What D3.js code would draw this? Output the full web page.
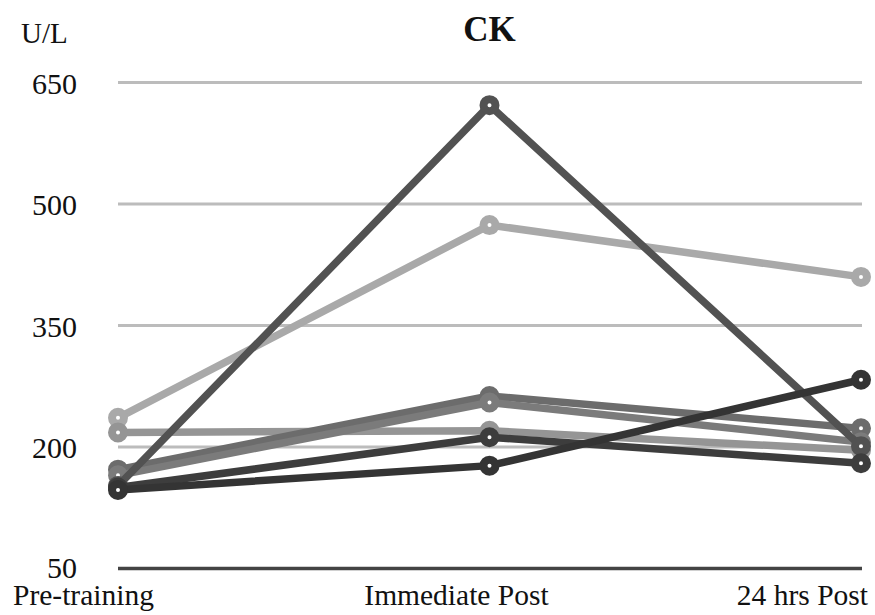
<!DOCTYPE html>
<html><head><meta charset="utf-8">
<script src="https://cdn.jsdelivr.net/npm/d3@7"></script>
<style>body{margin:0;background:#fff}svg{display:block}text{font-family:"Liberation Serif","Times New Roman",serif;fill:#111}</style>
</head><body><svg id="c" width="875" height="615"></svg>
<script>
const categories = ["Pre-training", "Immediate Post", "24 hrs Post"];
const yTicks = [50, 200, 350, 500, 650];
const title = "CK";
const unitLabel = "U/L";
// subject series (U/L)
const s1 = [236, 474, 410];
const s2 = [218, 220, 196];
const s3 = [172, 263, 223];
const s4 = [165, 255, 206];
const s5 = [152, 622, 201];
const s6 = [150, 212, 180];
const s7 = [147, 177, 283];
const seriesList = [s1, s2, s3, s4, s5, s6, s7];
const colors = ["#a9a9a9", "#959595", "#6c6c6c", "#7b7b7b", "#525252", "#3d3d3d", "#343434"];

const svg = d3.select("#c");
const x = d3.scalePoint().domain(categories).range([118, 861]).padding(0);
const y = d3.scaleLinear().domain([50, 650]).range([568.5, 82.5]);

// gridlines
svg.append("g").selectAll("line").data(yTicks.filter(d => d !== 50)).join("line")
  .attr("x1", 118).attr("x2", 862).attr("y1", d => y(d)).attr("y2", d => y(d))
  .attr("stroke", "#bcbcbc").attr("stroke-width", 3);
// baseline axis
svg.append("line").attr("x1", 118).attr("x2", 862).attr("y1", y(50)).attr("y2", y(50))
  .attr("stroke", "#444").attr("stroke-width", 3.5);

// y tick labels
svg.append("g").selectAll("text").data(yTicks).join("text")
  .attr("x", 77).attr("y", d => y(d) + (d === 50 ? 9 : 11)).attr("text-anchor", "end")
  .attr("font-size", 30).text(d => d);

svg.append("text").attr("x", 21).attr("y", 43).attr("font-size", 29).text(unitLabel);
svg.append("text").attr("x", x(categories[1])).attr("y", 41).attr("text-anchor", "middle")
  .attr("font-size", 35).attr("font-weight", "bold").text(title);

// x labels
const xl = [{a: "start", dx: -105}, {a: "middle", dx: -33}, {a: "end", dx: 7}];
svg.append("g").selectAll("text").data(categories).join("text")
  .attr("x", (d, i) => x(d) + xl[i].dx).attr("y", 605)
  .attr("text-anchor", (d, i) => xl[i].a).attr("font-size", 29.5).text(d => d);

const line = d3.line().x((d, i) => x(categories[i])).y(d => y(d));
seriesList.forEach((s, k) => {
  const g = svg.append("g");
  g.append("path").attr("d", line(s)).attr("fill", "none")
    .attr("stroke", colors[k]).attr("stroke-width", 7.5).attr("stroke-linejoin", "round");
  g.selectAll("circle").data(s).join("circle")
    .attr("cx", (d, i) => x(categories[i])).attr("cy", d => y(d))
    .attr("r", 6).attr("fill", "#fff").attr("stroke", colors[k]).attr("stroke-width", 8);
});
</script></body></html>
